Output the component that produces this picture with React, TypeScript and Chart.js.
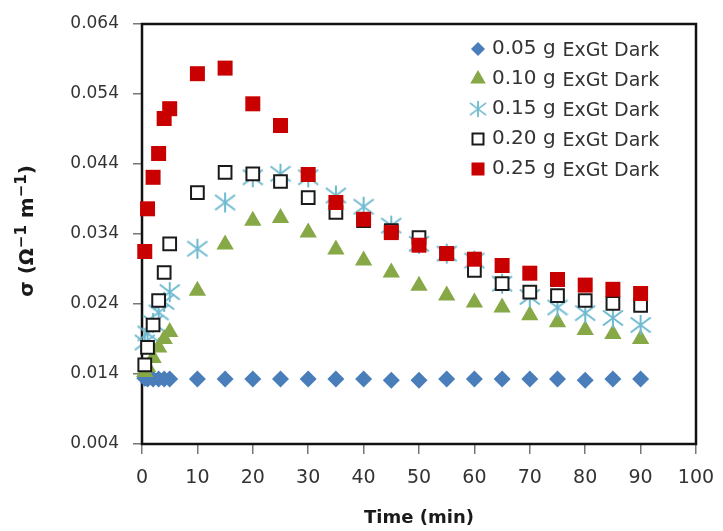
import React, { useEffect, useRef } from 'react';
import { Chart, registerables } from 'chart.js';

Chart.register(...registerables);

// ---- data ----
const times = [0.5, 1, 2, 3, 4, 5, 10, 15, 20, 25, 30, 35, 40, 45, 50, 55, 60, 65, 70, 75, 80, 85, 90];
const s005 = [0.0134, 0.0133, 0.0133, 0.0133, 0.0133, 0.0133, 0.0133, 0.0133, 0.0133, 0.0133, 0.0133, 0.0133, 0.0133, 0.0131, 0.0131, 0.0133, 0.0133, 0.0133, 0.0133, 0.0133, 0.0131, 0.0133, 0.0133];
const s010 = [0.0143, 0.0150, 0.0163, 0.0178, 0.0190, 0.0200, 0.0259, 0.0325, 0.0359, 0.0363, 0.0342, 0.0318, 0.0302, 0.0285, 0.0266, 0.0252, 0.0242, 0.0235, 0.0224, 0.0214, 0.0203, 0.0197, 0.0190];
const s015 = [0.0185, 0.0198, 0.0213, 0.0228, 0.0243, 0.0257, 0.0319, 0.0385, 0.0421, 0.0426, 0.0421, 0.0395, 0.0379, 0.0352, 0.0326, 0.0312, 0.0302, 0.0269, 0.0250, 0.0235, 0.0227, 0.0220, 0.0210];
const s020 = [0.0153, 0.0178, 0.0210, 0.0245, 0.0285, 0.0326, 0.0399, 0.0428, 0.0426, 0.0415, 0.0392, 0.0371, 0.0359, 0.0345, 0.0335, 0.0312, 0.0288, 0.0269, 0.0257, 0.0252, 0.0245, 0.0241, 0.0238];
const s025 = [0.0315, 0.0376, 0.0421, 0.0455, 0.0505, 0.0519, 0.0569, 0.0577, 0.0526, 0.0495, 0.0425, 0.0385, 0.0361, 0.0342, 0.0324, 0.0312, 0.0304, 0.0295, 0.0284, 0.0275, 0.0267, 0.0261, 0.0255];

const seriesLabels = ['0.05 g', '0.10 g', '0.15 g', '0.20 g', '0.25 g'];
const seriesSuffix = 'ExGt Dark';
const xTicks = [0, 10, 20, 30, 40, 50, 60, 70, 80, 90, 100];
const yTicks = [0.004, 0.014, 0.024, 0.034, 0.044, 0.054, 0.064];
const xTitle = 'Time (min)';
const yTitleParts = [
  { t: 'σ (Ω', sup: false },
  { t: '−1', sup: true },
  { t: ' m', sup: false },
  { t: '−1', sup: true },
  { t: ')', sup: false },
];

const BLUE = '#4A7EBB';
const GREEN = '#86A846';
const CYAN = '#6FBAD0';
const BLACK = '#1a1a1a';
const RED = '#C80000';

function makeAsterisk(size: number, color: string, lw: number) {
  const c = document.createElement('canvas');
  c.width = size;
  c.height = size;
  const g = c.getContext('2d')!;
  g.strokeStyle = color;
  g.lineWidth = lw;
  const m = size / 2;
  const r = size / 2 - 1;
  g.beginPath();
  g.moveTo(m, m - r);
  g.lineTo(m, m + r);
  g.moveTo(m - r, m - r * 0.75);
  g.lineTo(m + r, m + r * 0.75);
  g.moveTo(m - r, m + r * 0.75);
  g.lineTo(m + r, m - r * 0.75);
  g.stroke();
  return c;
}

function drawMarker(ctx: CanvasRenderingContext2D, kind: string, x: number, y: number, star: HTMLCanvasElement) {
  ctx.save();
  if (kind === 'diamond') {
    const r = 7;
    ctx.fillStyle = BLUE;
    ctx.beginPath();
    ctx.moveTo(x, y - r);
    ctx.lineTo(x + r, y);
    ctx.lineTo(x, y + r);
    ctx.lineTo(x - r, y);
    ctx.closePath();
    ctx.fill();
  } else if (kind === 'triangle') {
    const r = 9;
    ctx.fillStyle = GREEN;
    ctx.beginPath();
    ctx.moveTo(x, y - r);
    ctx.lineTo(x + r * 0.866, y + r * 0.5);
    ctx.lineTo(x - r * 0.866, y + r * 0.5);
    ctx.closePath();
    ctx.fill();
  } else if (kind === 'star') {
    ctx.drawImage(star, x - star.width / 2 + 2, y - star.height / 2 + 2, star.width - 4, star.height - 4);
  } else if (kind === 'open') {
    ctx.strokeStyle = BLACK;
    ctx.lineWidth = 2;
    ctx.fillStyle = '#fff';
    ctx.fillRect(x - 5.5, y - 5.5, 11, 11);
    ctx.strokeRect(x - 5.5, y - 5.5, 11, 11);
  } else {
    ctx.fillStyle = RED;
    ctx.fillRect(x - 6.5, y - 6.5, 13, 13);
  }
  ctx.restore();
}

export default function App() {
  const ref = useRef<HTMLCanvasElement | null>(null);

  useEffect(() => {
    if (!ref.current) return;
    const star = makeAsterisk(22, CYAN, 2);
    const kinds = ['diamond', 'triangle', 'star', 'open', 'filled'];

    const decor = {
      id: 'decor',
      beforeDatasetsDraw(chart: any) {
        const { ctx, chartArea: a } = chart;
        ctx.save();
        ctx.strokeStyle = '#111';
        ctx.lineWidth = 2.5;
        ctx.strokeRect(a.left, a.top, a.right - a.left, a.bottom - a.top);
        ctx.restore();
      },
      afterDraw(chart: any) {
        const { ctx } = chart;
        ctx.save();
        // legend
        seriesLabels.forEach((lab, i) => {
          const y = 49 + 30 * i;
          drawMarker(ctx, kinds[i], 478, y, star);
          ctx.fillStyle = '#333';
          ctx.textBaseline = 'middle';
          ctx.textAlign = 'left';
          ctx.font = '20px "DejaVu Sans"';
          ctx.fillText(lab, 492, y);
          const w = ctx.measureText(lab).width;
          ctx.font = '19px "DejaVu Sans"';
          ctx.fillText(seriesSuffix, 492 + w + 7, y + 2);
        });
        // y title
        const mainFont = 'bold 20px "DejaVu Sans"';
        const supFont = 'bold 15px "DejaVu Sans"';
        let total = 0;
        const widths = yTitleParts.map((p) => {
          ctx.font = p.sup ? supFont : mainFont;
          const w = ctx.measureText(p.t).width;
          total += w;
          return w;
        });
        ctx.translate(28, 231);
        ctx.rotate(-Math.PI / 2);
        ctx.fillStyle = '#1a1a1a';
        ctx.textBaseline = 'middle';
        let cx = -total / 2;
        yTitleParts.forEach((p, i) => {
          ctx.font = p.sup ? supFont : mainFont;
          ctx.fillText(p.t, cx, p.sup ? -6 : 0);
          cx += widths[i];
        });
        ctx.restore();
      },
    };

    const mk = (vals: number[]) => times.map((t, i) => ({ x: t, y: vals[i] }));

    const chart = new Chart(ref.current, {
      type: 'scatter',
      data: {
        datasets: [
          { label: seriesLabels[4], data: mk(s025), pointStyle: 'rect', pointRadius: 10.6, backgroundColor: RED, borderColor: RED, borderWidth: 0, order: 0, clip: false } as any,
          { label: seriesLabels[3], data: mk(s020), pointStyle: 'rect', pointRadius: 9, backgroundColor: '#ffffff', borderColor: BLACK, borderWidth: 2, order: 1, clip: false } as any,
          { label: seriesLabels[2], data: mk(s015), pointStyle: star, pointRadius: 10, backgroundColor: CYAN, borderColor: CYAN, order: 2, clip: false } as any,
          { label: seriesLabels[1], data: mk(s010), pointStyle: 'triangle', pointRadius: 10, backgroundColor: GREEN, borderColor: GREEN, borderWidth: 0, order: 3, clip: false } as any,
          { label: seriesLabels[0], data: mk(s005), pointStyle: 'rectRot', pointRadius: 8.5, backgroundColor: BLUE, borderColor: BLUE, borderWidth: 0, order: 4, clip: false } as any,
        ],
      },
      options: {
        responsive: false,
        animation: false,
        devicePixelRatio: 1,
        events: [],
        layout: { padding: { top: 24, right: 27, left: 0, bottom: 0 } },
        plugins: { legend: { display: false }, tooltip: { enabled: false } },
        scales: {
          x: {
            type: 'linear',
            min: 0,
            max: 100,
            afterBuildTicks: (s: any) => {
              s.ticks = xTicks.map((v) => ({ value: v }));
            },
            afterFit: (s: any) => {
              s.height = 87;
              s.paddingLeft = 0;
              s.paddingRight = 0;
            },
            grid: { drawOnChartArea: false, drawTicks: true, tickLength: 10, color: '#777', lineWidth: 1.5 },
            border: { display: false },
            ticks: {
              font: { family: 'DejaVu Sans', size: 19 },
              color: '#333',
              padding: 13,
              maxRotation: 0,
              autoSkip: false,
              callback: (v: any) => String(v),
            },
            title: {
              display: true,
              text: xTitle,
              font: { family: 'DejaVu Sans', size: 18, weight: 'bold' },
              color: '#1a1a1a',
              padding: { top: 2, bottom: 2 },
            },
          },
          y: {
            type: 'linear',
            min: 0.004,
            max: 0.064,
            afterBuildTicks: (s: any) => {
              s.ticks = yTicks.map((v) => ({ value: v }));
            },
            afterFit: (s: any) => {
              s.width = 142;
              s.paddingTop = 0;
              s.paddingBottom = 0;
            },
            grid: { drawOnChartArea: false, drawTicks: true, tickLength: 9, color: '#777', lineWidth: 1.5 },
            border: { display: false },
            ticks: {
              font: { family: 'DejaVu Sans', size: 17 },
              color: '#333',
              padding: 14,
              autoSkip: false,
              callback: (v: any) => Number(v).toFixed(3),
            },
            title: { display: false },
          },
        },
      },
      plugins: [decor],
    } as any);

    return () => chart.destroy();
  }, []);

  return (
    <div style={{ position: 'absolute', left: 0, top: 0, width: 723, height: 531, background: '#fff' }}>
      <canvas ref={ref} width={723} height={531} />
    </div>
  );
}
